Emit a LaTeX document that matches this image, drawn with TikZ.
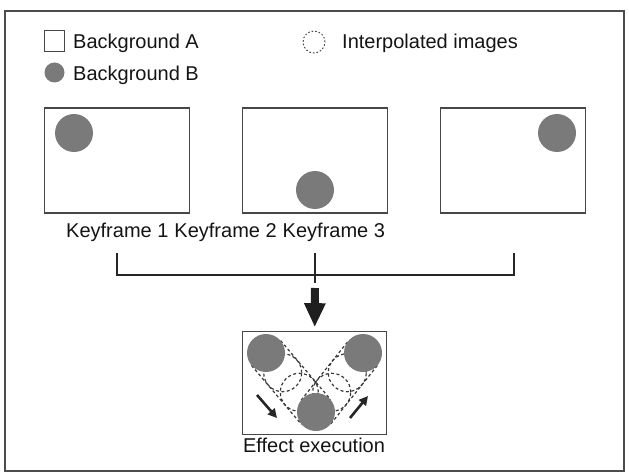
\documentclass[tikz,border=0pt]{standalone}
\usepackage{fontspec}
\setmainfont{Liberation Sans}
\usetikzlibrary{arrows.meta}
\begin{document}
\begin{tikzpicture}[x=1pt,y=-1pt,
  kframe/.style={draw=black!72, line width=1.2pt, minimum width=145pt, minimum height=105pt, inner sep=0pt},
  ball/.style={circle, fill=black!52, minimum size=38pt, inner sep=0pt},
  ghost/.style={draw=black!78, line width=1.2pt, dash pattern=on 3pt off 2.5pt},
  lbl/.style={font=\fontsize{20}{24}\selectfont, inner sep=0pt, anchor=base west, text=black!92},
  connector/.style={draw=black!85, line width=2pt},
  smallarrow/.style={draw=black!85, line width=2.6pt, -{Triangle[length=9pt,width=9pt]}}]
\useasboundingbox (0,0) rectangle (629,476);
\draw[black!70, line width=1.2pt] (5,11) rectangle (624,471);

% legend
\node[draw=black!72, line width=1pt, minimum width=20pt, minimum height=21pt, inner sep=0pt] (legA) at (54,41.5) {};
\node[lbl] (txtA) at (73,48.5) {Background A};
\node[circle, fill=black!52, minimum size=20pt, inner sep=0pt] (legB) at (54.5,72.5) {};
\node[lbl] (txtB) at (73,81) {Background B};
\node[circle, ghost, line width=0.9pt, dash pattern=on 1.6pt off 2pt, minimum size=22pt, inner sep=0pt] (legC) at (314,42) {};
\node[lbl] (txtC) at (342,48.5) {Interpolated images};

% keyframes
\node[kframe] (f1) at (117,160.5) {};
\node[kframe] (f2) at (315,160.5) {};
\node[kframe] (f3) at (513,160.5) {};
\node[ball] (c1) at (74,133) {};
\node[ball] (c2) at (315,190) {};
\node[ball] (c3) at (557,133) {};

\node[lbl] (k1) at (66,237) {Keyframe 1};
\node[lbl] (k2) at ([xshift=5.6pt]k1.base east) {Keyframe 2};
\node[lbl] (k3) at ([xshift=5.6pt]k2.base east) {Keyframe 3};

% bracket
\coordinate (t1) at (117,253);
\coordinate (b1) at (117,275);
\coordinate (t2) at (315,253);
\coordinate (m2) at (315,283);
\coordinate (t3) at (514,253);
\coordinate (b3) at (514,275);
\coordinate (as) at (315,288);
\draw[connector] (t1) -- (b1) -- (b3) -- (t3);
\draw[connector] (t2) -- (m2);

% effect box
\node[kframe, minimum width=144pt, minimum height=103pt] (eff) at (314.7,383.3) {};
\draw[draw=black!88, line width=8pt, shorten >=4pt, -{Triangle[length=24pt,width=20pt]}] (as) -- (eff.north);

% interpolated ghosts
\coordinate (L) at (266,353);
\coordinate (R) at (363,353);
\coordinate (B) at (316,412);
\draw[ghost] (282.7,372.7) circle[radius=19pt];
\draw[ghost] (299.3,392.3) circle[radius=19pt];
\draw[ghost] (331.7,392.3) circle[radius=19pt];
\draw[ghost] (347.3,372.7) circle[radius=19pt];
\draw[ghost] ([shift={(14.6,-12.4)}]L) -- ([shift={(14.6,-12.4)}]B);
\draw[ghost] ([shift={(-14.6,12.4)}]L) -- ([shift={(-14.6,12.4)}]B);
\draw[ghost] ([shift={(-14.9,-11.8)}]B) -- ([shift={(-14.9,-11.8)}]R);
\draw[ghost] ([shift={(14.9,11.8)}]B) -- ([shift={(14.9,11.8)}]R);

\node[ball] (eL) at (L) {};
\node[ball] (eR) at (R) {};
\node[ball] (eB) at (B) {};

\coordinate (a1s) at (257,395);
\coordinate (a1e) at (277,418);
\coordinate (a2s) at (350,418);
\coordinate (a2e) at (368,396);
\draw[smallarrow] (a1s) -- (a1e);
\draw[smallarrow] (a2s) -- (a2e);

\node[lbl, anchor=base] (efftxt) at (314,452) {Effect execution};
\end{tikzpicture}
\end{document}
